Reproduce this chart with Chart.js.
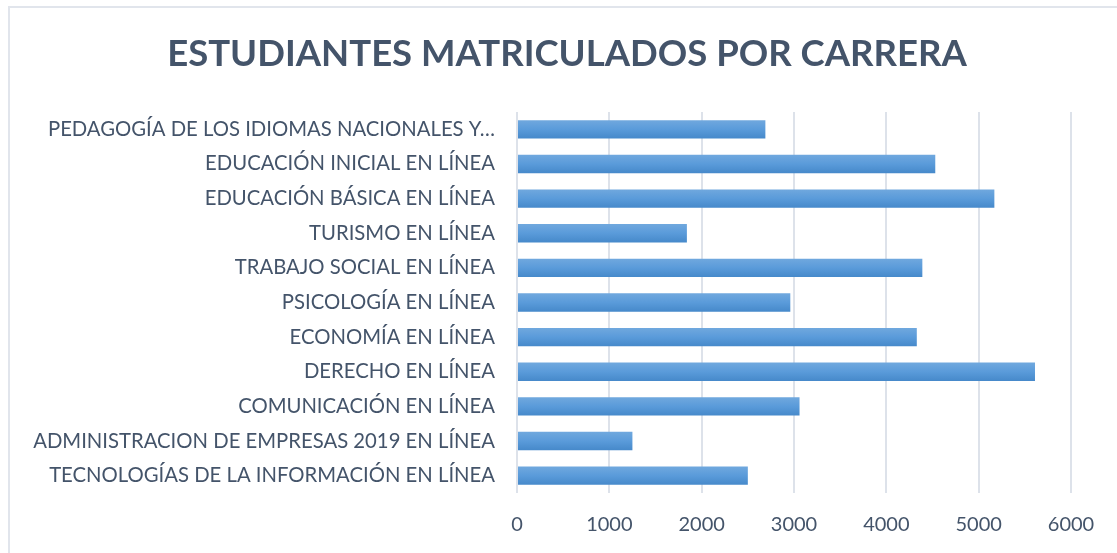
<!DOCTYPE html>
<html>
<head>
<meta charset="utf-8">
<script src="https://cdn.jsdelivr.net/npm/chart.js@4"></script>
<style>
  body { margin: 0; background: #fff; overflow: hidden; }
  #marco { position: absolute; left: 8px; top: 6px; width: 1200px; height: 600px;
           border-left: 2px solid #e1e5ec; border-top: 2px solid #e1e5ec; }
  #grafico { position: absolute; left: 0; top: 0; }
</style>
</head>
<body>
<div id="marco"></div>
<canvas id="grafico" width="1134" height="553"></canvas>
<script>
// carreras de arriba hacia abajo
const carreras = [
    'PEDAGOGÍA DE LOS IDIOMAS NACIONALES Y…',
    'EDUCACIÓN INICIAL EN LÍNEA',
    'EDUCACIÓN BÁSICA EN LÍNEA',
    'TURISMO EN LÍNEA',
    'TRABAJO SOCIAL EN LÍNEA',
    'PSICOLOGÍA EN LÍNEA',
    'ECONOMÍA EN LÍNEA',
    'DERECHO EN LÍNEA',
    'COMUNICACIÓN EN LÍNEA',
    'ADMINISTRACION DE EMPRESAS 2019 EN LÍNEA',
    'TECNOLOGÍAS DE LA INFORMACIÓN EN LÍNEA'
]
const matriculados = [2690, 4530, 5170, 1840, 4390, 2960, 4330, 5610, 3060, 1250, 2500]
const ticksX = [0, 1000, 2000, 3000, 4000, 5000, 6000]

const colorTexto = '#44546a'
const fuente = 'Lato'
const anchoBarra = 0.53

function degradado(context) {
    const chart = context.chart
    const escalaY = chart.scales.y
    if (!escalaY || !chart.chartArea) return '#5b9bd5'
    const centro = escalaY.getPixelForValue(context.dataIndex)
    const mitad = (escalaY.height / carreras.length) * anchoBarra / 2
    const g = chart.ctx.createLinearGradient(0, centro - mitad, 0, centro + mitad)
    g.addColorStop(0, '#70a8de')
    g.addColorStop(0.5, '#5a9bda')
    g.addColorStop(1, '#4689ca')
    return g
}

const ctx = document.getElementById('grafico')

var dadosBarra = {
    labels: carreras,
    datasets: [{
        label: 'Estudiantes',
        data: matriculados,
        backgroundColor: degradado,
        borderWidth: 0,
        barPercentage: anchoBarra,
        categoryPercentage: 1
    }]
}

var graficoBarras = new Chart(ctx, {
    type: 'bar',
    data: dadosBarra,
    options: {
        indexAxis: 'y',
        responsive: false,
        animation: false,
        layout: { padding: 0 },
        scales: {
            x: {
                min: 0,
                max: 6000,
                afterBuildTicks: function (escala) {
                    escala.ticks = ticksX.map(v => ({ value: v }))
                },
                afterFit: function (escala) { escala.height = 60 },
                grid: { color: '#dde2ea', lineWidth: 2, drawTicks: false },
                border: { display: false },
                ticks: {
                    color: colorTexto,
                    padding: 20,
                    font: { family: fuente, size: 20 },
                    callback: function (valor) { return String(valor) }
                }
            },
            y: {
                afterFit: function (escala) { escala.width = 517 },
                grid: { display: false },
                border: { display: false },
                ticks: {
                    color: colorTexto,
                    padding: 14,
                    font: { family: fuente, size: 20.3 }
                }
            },
            // espacio vacío a la derecha del área de barras
            derecha: {
                type: 'linear',
                position: 'right',
                afterFit: function (escala) { escala.width = 63 },
                grid: { display: false },
                border: { display: false },
                ticks: { display: false }
            }
        },
        plugins: {
            legend: { display: false },
            tooltip: { enabled: false },
            title: {
                display: true,
                text: 'ESTUDIANTES MATRICULADOS POR CARRERA',
                color: colorTexto,
                font: { family: fuente, size: 36.5, weight: 'bold', lineHeight: 1.2 },
                padding: { top: 32, bottom: 36.2 }
            }
        }
    }
})
</script>
</body>
</html>
